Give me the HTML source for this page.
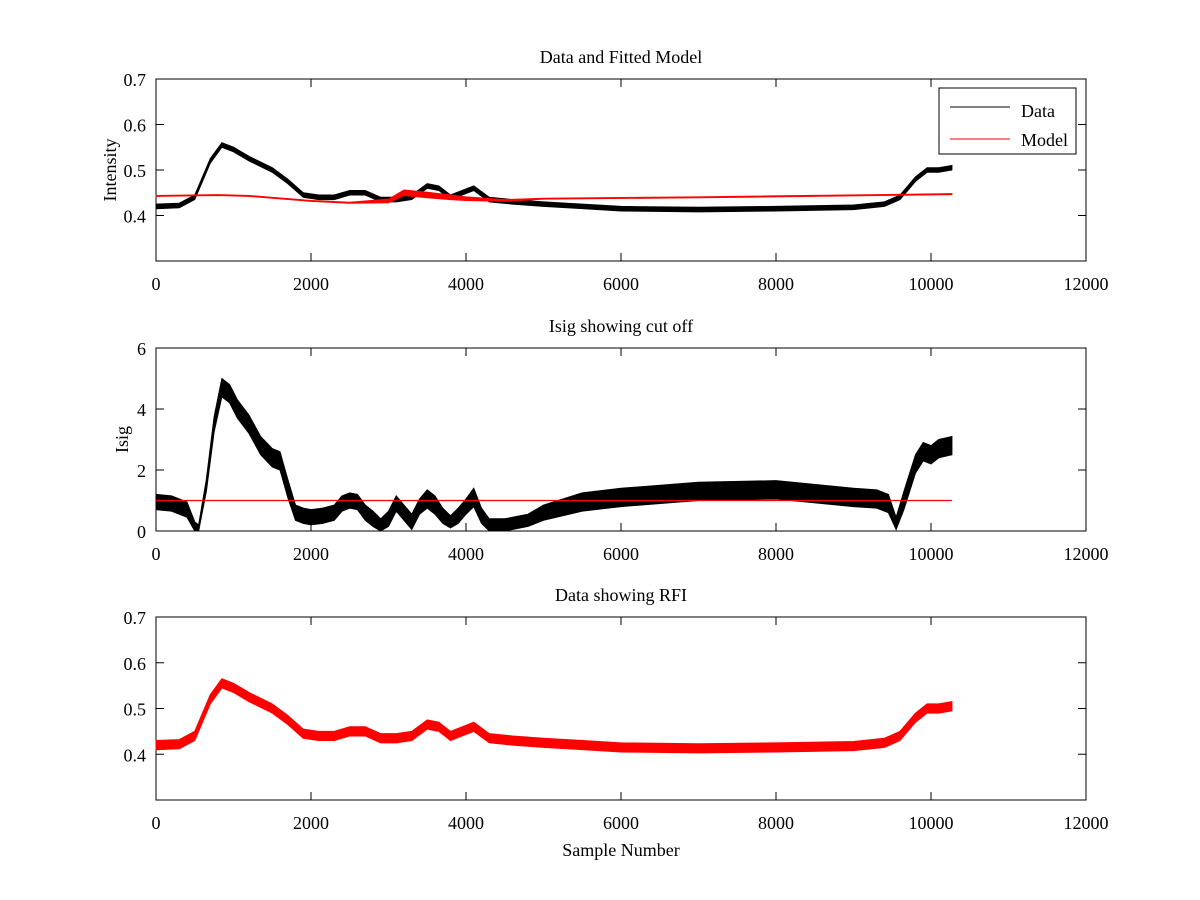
<!DOCTYPE html>
<html><head><meta charset="utf-8"><style>
body{margin:0;background:#fff}
svg{display:block}
text{font-family:"Liberation Serif",serif;font-size:18px;fill:#000}
</style></head><body>
<svg id="fig" width="1200" height="900"></svg>
<script>
// x positions of keypoints (sample number)
const dataX = [0,300,500,700,850,1000,1200,1500,1700,1900,2100,2300,2500,2700,2900,3100,3300,3500,3650,3800,3950,4100,4300,4600,5000,5500,6000,7000,8000,9000,9400,9600,9800,9950,10100,10270];
const dataY = [0.42,0.422,0.44,0.52,0.555,0.545,0.525,0.50,0.475,0.445,0.44,0.44,0.45,0.45,0.435,0.435,0.44,0.465,0.46,0.44,0.45,0.46,0.435,0.43,0.425,0.42,0.415,0.413,0.415,0.418,0.425,0.44,0.48,0.50,0.50,0.505];
const modelX = [0,800,1200,2000,2500,3000,3200,3500,3800,4000,4500,5000,7000,10270];
const modelY = [0.443,0.445,0.443,0.432,0.428,0.432,0.45,0.445,0.44,0.437,0.433,0.437,0.44,0.447];
const modelNoise = [0.001,0.001,0.001,0.001,0.001,0.004,0.006,0.006,0.005,0.004,0.002,0.001,0.001,0.001];
const isigX = [0,200,400,500,550,650,750,850,950,1050,1200,1350,1500,1600,1700,1800,1900,2000,2150,2300,2400,2500,2600,2700,2800,2900,3000,3100,3200,3300,3400,3500,3600,3700,3800,3900,4000,4100,4200,4300,4500,4800,5000,5500,6000,7000,8000,9000,9300,9450,9550,9650,9800,9900,10000,10100,10270];
const isigY = [0.95,0.9,0.7,0.15,0.1,1.5,3.5,4.7,4.5,4.0,3.5,2.8,2.4,2.3,1.4,0.6,0.5,0.45,0.5,0.6,0.9,1.0,0.95,0.6,0.4,0.2,0.4,0.9,0.6,0.3,0.8,1.05,0.85,0.5,0.3,0.5,0.8,1.1,0.5,0.2,0.2,0.35,0.6,0.95,1.1,1.3,1.35,1.1,1.05,0.9,0.25,1.0,2.2,2.6,2.5,2.7,2.8];
const isigNoise = [0.25,0.25,0.25,0.15,0.1,0.2,0.25,0.3,0.3,0.3,0.3,0.3,0.3,0.3,0.3,0.25,0.25,0.25,0.25,0.25,0.25,0.25,0.25,0.25,0.25,0.2,0.25,0.25,0.25,0.25,0.25,0.3,0.3,0.25,0.2,0.25,0.25,0.3,0.25,0.2,0.2,0.2,0.25,0.3,0.3,0.3,0.3,0.3,0.3,0.3,0.2,0.3,0.3,0.3,0.3,0.3,0.3];
const cutoff = 1.0;
const xTicks = [0,2000,4000,6000,8000,10000,12000];
const y1Ticks = [0.4,0.5,0.6,0.7];
const y2Ticks = [0,2,4,6];

const NS='http://www.w3.org/2000/svg';
const svg=document.getElementById('fig');
const X0=156,X1=1086;
const sx=v=>X0+(v/12000)*(X1-X0);
function mk(tag,attrs,parent){const e=document.createElementNS(NS,tag);for(const k in attrs)e.setAttribute(k,attrs[k]);(parent||svg).appendChild(e);return e;}
function band(xs,ys,hw,sy,color,parent){
  let up=[],lo=[];
  xs.forEach((x,i)=>{const h=Array.isArray(hw)?hw[i]:hw;up.push(sx(x)+','+sy(ys[i]+h));lo.unshift(sx(x)+','+sy(ys[i]-h));});
  return mk('polygon',{points:up.concat(lo).join(' '),fill:color,stroke:color,'stroke-width':1},parent);
}
function axes(name,top,bot,ymin,ymax,yt,fmt,title,ylabel){
  const g=mk('g',{});
  
  
  const sy=v=>bot-(v-ymin)/(ymax-ymin)*(bot-top);
  mk('rect',{x:X0,y:top,width:X1-X0,height:bot-top,fill:'none',stroke:'#000','stroke-width':1},g);
  xTicks.forEach(t=>{const x=sx(t);
    mk('line',{x1:x,x2:x,y1:bot,y2:bot-8,stroke:'#000'},g);
    mk('line',{x1:x,x2:x,y1:top,y2:top+8,stroke:'#000'},g);
    const tx=mk('text',{x:x,y:bot+29,'text-anchor':'middle'},g);tx.textContent=t;
    
    });
  yt.forEach(t=>{const y=sy(t);
    mk('line',{x1:X0,x2:X0+8,y1:y,y2:y,stroke:'#000'},g);
    mk('line',{x1:X1,x2:X1-8,y1:y,y2:y,stroke:'#000'},g);
    const tx=mk('text',{x:X0-10,y:y+7,'text-anchor':'end'},g);tx.textContent=fmt(t);
    
    });
  const ti=mk('text',{x:(X0+X1)/2,y:top-16,'text-anchor':'middle'},g);ti.textContent=title;
  
  
  if(ylabel){const yl=mk('text',{x:0,y:0,'text-anchor':'middle',transform:`translate(${ylabel[1]},${(top+bot)/2}) rotate(-90)`},g);yl.textContent=ylabel[0];
    
    }
  return {g,sy};
}
// Plot 1
const a1=axes('data-fitted-model-axes',79,261,0.3,0.7,y1Ticks,v=>v.toFixed(1),'Data and Fitted Model',['Intensity',116]);
const d1=band(dataX,dataY,0.005,a1.sy,'#000',a1.g);


const m1=band(modelX,modelY,modelNoise,a1.sy,'#f00',a1.g);


// legend
const lg=mk('g',{},a1.g);


mk('rect',{x:939,y:88,width:137,height:66,fill:'#fff',stroke:'#000'},lg);
mk('line',{x1:950,x2:1010,y1:107,y2:107,stroke:'#000'},lg);
mk('line',{x1:950,x2:1010,y1:139,y2:139,stroke:'#f00'},lg);
const l1=mk('text',{x:1021,y:117},lg);l1.textContent='Data';


const l2=mk('text',{x:1021,y:146},lg);l2.textContent='Model';


// Plot 2
const a2=axes('isig-axes',348,531,0,6,y2Ticks,v=>String(v),'Isig showing cut off',['Isig',128]);
const d2=band(isigX,isigY,isigNoise,v=>Math.min(531,Math.max(348,a2.sy(v))),'#000',a2.g);


const c2=mk('line',{x1:sx(0),x2:sx(10270),y1:a2.sy(cutoff),y2:a2.sy(cutoff),stroke:'#f00','stroke-width':1.2},a2.g);


// Plot 3
const a3=axes('rfi-axes',617,800,0.3,0.7,y1Ticks,v=>v.toFixed(1),'Data showing RFI',null);
const d3=band(dataX,dataY,0.01,a3.sy,'#f00',a3.g);


const xl=mk('text',{x:(X0+X1)/2,y:856,'text-anchor':'middle'});xl.textContent='Sample Number';


</script>
</body></html>
